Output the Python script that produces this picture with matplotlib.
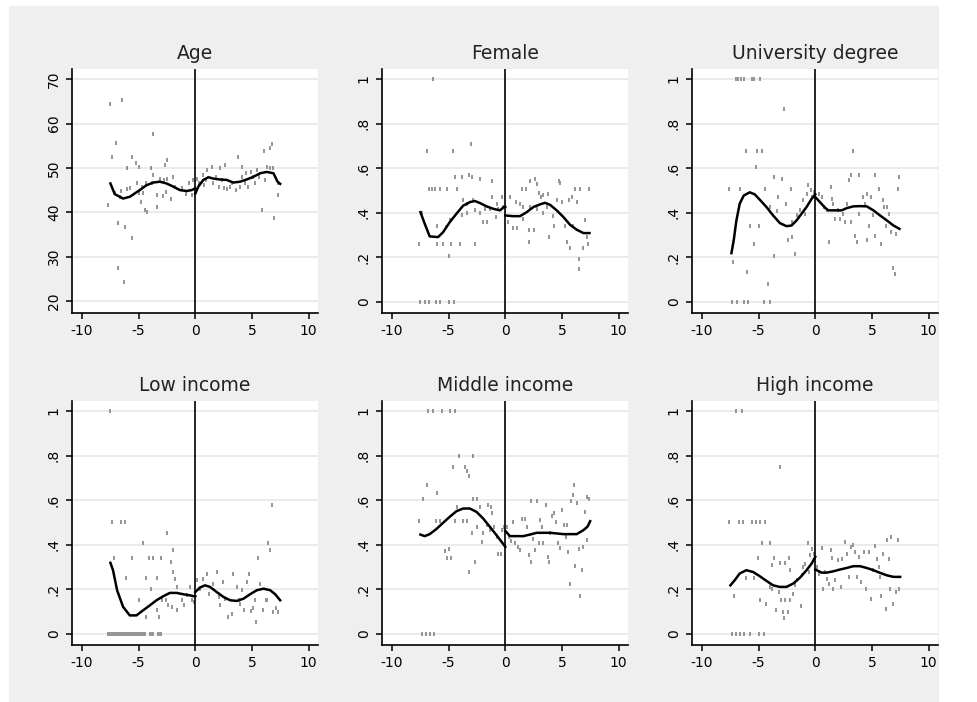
import matplotlib
matplotlib.use("Agg")
import matplotlib.pyplot as plt
from matplotlib.patches import Rectangle

plt.rcParams["font.family"] = ["DejaVu Sans"]
plt.rcParams["axes.unicode_minus"] = False

# ---------------------------------------------------------------------------
# Binned means (scatter) and local polynomial fits on each side of the cutoff
# ---------------------------------------------------------------------------
TITLES = ["Age", "Female", "University degree", "Low income", "Middle income", "High income"]

X_TICKS = [-10, -5, 0, 5, 10]
AGE_Y_TICKS = [20, 30, 40, 50, 60, 70]
AGE_Y_LABELS = ["20", "30", "40", "50", "60", "70"]
SHARE_Y_TICKS = [0, 0.2, 0.4, 0.6, 0.8, 1.0]
SHARE_Y_LABELS = ["0", ".2", ".4", ".6", ".8", "1"]

# Age
AGE_PTS_X = [-7.55, -6.43, -6.96, -7.32, -7.70, -6.78, -6.22, -5.55, -6.78, -6.25,
             -6.02, -5.55, -5.19, -5.01, -3.72, -3.42, -4.75, -4.45, -4.25, -2.48,
             -2.65, -3.95, -3.69, -3.39, -2.83, -2.60, -2.15, -2.54, -2.01, -1.80,
             -1.21, -0.80, -0.32, -0.56, -0.18, -6.52, -6.02, -5.72, -6.67, -7.08,
             -5.01, -5.16, -4.72, -4.31, -3.83, -3.07, -2.77, -4.60,
             0.18, 0.35, 0.65, 0.77, 1.06, 1.45, 1.83, 2.06, 2.18, 2.63,
             2.54, 2.83, 3.22, 3.60, 3.78, 4.10, 4.10, 4.40, 4.48, 4.69,
             4.90, 5.13, 5.43, 5.66, 5.87, 6.08, 6.31, 6.55, 6.78, 6.90,
             6.99, 7.26, 7.26, 0.91, 1.59, 2.33, 3.07, 3.95, 5.28, 6.17, 6.61]
AGE_PTS_Y = [64.4, 65.3, 55.7, 52.5, 41.6, 37.6, 36.6, 34.3, 27.5, 24.3,
             49.9, 52.5, 51.2, 50.3, 57.6, 41.2, 42.4, 40.5, 40.1, 51.8,
             50.6, 49.9, 48.4, 43.9, 43.6, 44.6, 42.9, 47.6, 48.0, 45.8,
             45.4, 44.2, 43.9, 46.7, 47.3, 44.8, 45.2, 45.4, 43.5, 44.4,
             44.4, 46.7, 45.8, 46.7, 46.5, 47.5, 47.3, 44.4,
             47.4, 46.5, 48.4, 46.1, 49.5, 50.3, 48.0, 45.8, 49.9, 50.6,
             45.4, 45.2, 46.5, 45.0, 52.5, 50.3, 48.0, 46.5, 48.8, 45.8,
             49.1, 48.0, 49.5, 48.0, 40.6, 53.9, 50.3, 54.4, 55.4, 49.9,
             38.8, 43.9, 46.5, 47.3, 46.7, 47.3, 45.8, 45.8, 46.5, 47.3, 49.9]
AGE_FIT_L_X = [-7.49, -7.11, -6.37, -5.78, -4.90, -4.31, -3.72, -3.13, -2.54, -1.95,
               -1.36, -0.77, -0.32, 0.0]
AGE_FIT_L_Y = [46.5, 44.1, 43.1, 43.5, 45.0, 46.1, 46.7, 46.9, 46.5, 45.8,
               45.0, 44.8, 45.0, 45.4]
AGE_FIT_R_X = [0.0, 0.27, 0.71, 1.15, 1.59, 2.18, 2.77, 3.36, 3.95, 4.54,
               5.13, 5.72, 6.31, 6.90, 7.26, 7.49]
AGE_FIT_R_Y = [44.2, 45.8, 47.3, 47.9, 47.6, 47.4, 47.3, 46.7, 46.9, 47.4,
               48.0, 48.8, 49.1, 48.8, 46.9, 46.4]

# Female
FEM_PTS_X = [-6.37, -6.90, -4.60, -3.01, -6.73, -6.49, -6.19, -5.78, -5.13, -4.25,
             -4.40, -3.86, -3.19, -2.95, -2.24, -1.21, -7.61, -7.32, -6.02, -6.02,
             -5.49, -4.75, -4.01, -4.96, -2.65, -7.49, -7.11, -6.73, -6.14, -5.72,
             -4.96, -4.54, -5.19, -4.90, -3.72, -3.42, -3.86, -3.36, -2.89, -2.68,
             -2.24, -1.95, -1.59, -1.80, -1.21, -1.36, -0.83, -0.71, -0.32, -0.18,
             -0.62,
             0.21, 0.41, 0.65, 1.00, 0.94, 1.30, 1.47, 1.83, 1.59, 2.06,
             2.06, 2.18, 2.54, 2.65, 2.83, 2.95, 3.13, 3.36, 3.81, 3.83,
             3.36, 4.25, 4.34, 4.72, 4.84, 4.54, 5.01, 5.25, 5.43, 5.60,
             5.72, 5.87, 6.02, 6.17, 6.31, 6.61, 6.49, 6.49, 6.84, 7.02,
             7.26, 7.35, 7.17, 2.18, 2.77, 3.66, 1.59]
FEM_PTS_Y = [1.00, 0.677, 0.677, 0.706, 0.505, 0.505, 0.505, 0.505, 0.505, 0.505,
             0.56, 0.56, 0.567, 0.56, 0.553, 0.542, 0.26, 0.40, 0.34, 0.26,
             0.26, 0.26, 0.26, 0.204, 0.26, 0.0, 0.0, 0.0, 0.0, 0.0,
             0.0, 0.0, 0.335, 0.365, 0.455, 0.44, 0.387, 0.40, 0.458, 0.41,
             0.40, 0.357, 0.357, 0.417, 0.47, 0.417, 0.38, 0.44, 0.47, 0.425,
             0.417,
             0.357, 0.47, 0.332, 0.332, 0.447, 0.44, 0.505, 0.505, 0.372, 0.267,
             0.324, 0.542, 0.324, 0.553, 0.53, 0.49, 0.47, 0.477, 0.485, 0.29,
             0.40, 0.383, 0.342, 0.542, 0.533, 0.455, 0.447, 0.342, 0.267, 0.455,
             0.242, 0.47, 0.342, 0.505, 0.447, 0.505, 0.192, 0.147, 0.242, 0.368,
             0.26, 0.505, 0.29, 0.425, 0.417, 0.425, 0.425]
FEM_FIT_L_X = [-7.49, -7.11, -6.67, -5.93, -5.49, -4.90, -4.31, -3.72, -3.13, -2.68,
               -2.24, -1.65, -1.06, -0.47, -0.12, 0.0]
FEM_FIT_L_Y = [0.402, 0.350, 0.293, 0.290, 0.312, 0.357, 0.395, 0.431, 0.447, 0.452,
               0.443, 0.428, 0.417, 0.410, 0.425, 0.425]
FEM_FIT_R_X = [0.0, 0.71, 1.30, 1.89, 2.48, 3.07, 3.51, 3.95, 4.54, 5.13,
               5.72, 6.31, 6.90, 7.43]
FEM_FIT_R_Y = [0.387, 0.384, 0.384, 0.402, 0.425, 0.437, 0.444, 0.435, 0.410, 0.380,
               0.345, 0.323, 0.308, 0.308]

# University degree
UNI_PTS_X = [-7.02, -6.78, -6.55, -6.31, -5.60, -5.37, -4.84, -2.77, -6.14, -5.13,
             -4.72, -5.25, -3.66, -2.95, -7.61, -6.67, -4.42, -2.18, -7.26, -6.02,
             -5.43, -5.78, -5.01, -3.60, -1.83, -2.42, -2.06, -4.19, -7.32, -6.90,
             -6.31, -5.96, -4.54, -4.01, -3.30, -4.01, -3.42, -2.60, -2.09, -1.65,
             -1.36, -1.06, -0.77, -0.62, -0.41, -0.27, -0.12, -0.91, -1.42,
             0.35, 0.59, 0.77, 1.00, 1.18, 1.36, 1.47, 1.59, 1.74, 2.04,
             2.18, 2.42, 2.65, 2.77, 2.95, 3.13, 3.30, 3.13, 3.51, 3.66,
             3.83, 3.89, 4.25, 4.40, 4.54, 4.60, 4.78, 4.96, 5.13, 5.31,
             5.28, 5.60, 5.78, 5.96, 6.08, 6.20, 6.37, 6.67, 6.84, 7.05,
             7.08, 7.26, 7.37, 6.49]
UNI_PTS_Y = [1.0, 1.0, 1.0, 1.0, 1.0, 1.0, 1.0, 0.865, 0.677, 0.677,
             0.677, 0.605, 0.56, 0.553, 0.505, 0.505, 0.505, 0.505, 0.18, 0.135,
             0.26, 0.342, 0.342, 0.204, 0.215, 0.275, 0.29, 0.08, 0.0, 0.0,
             0.0, 0.0, 0.0, 0.0, 0.47, 0.425, 0.407, 0.44, 0.357, 0.387,
             0.41, 0.455, 0.485, 0.522, 0.503, 0.47, 0.492, 0.395, 0.38,
             0.485, 0.47, 0.425, 0.41, 0.267, 0.515, 0.462, 0.44, 0.372, 0.41,
             0.372, 0.395, 0.357, 0.44, 0.545, 0.568, 0.677, 0.357, 0.297, 0.267,
             0.568, 0.395, 0.47, 0.44, 0.485, 0.275, 0.342, 0.47, 0.387, 0.568,
             0.297, 0.505, 0.26, 0.455, 0.425, 0.342, 0.425, 0.312, 0.152, 0.125,
             0.305, 0.505, 0.56, 0.395]
UNI_FIT_L_X = [-7.40, -7.20, -6.96, -6.67, -6.31, -5.78, -5.34, -4.90, -4.31, -3.72,
               -3.13, -2.54, -2.09, -1.65, -1.21, -0.77, -0.32, 0.0]
UNI_FIT_L_Y = [0.218, 0.275, 0.365, 0.440, 0.477, 0.491, 0.482, 0.458, 0.425, 0.387,
               0.353, 0.339, 0.342, 0.365, 0.395, 0.425, 0.462, 0.482]
UNI_FIT_R_X = [0.0, 0.41, 0.86, 1.15, 1.59, 2.33, 2.77, 3.36, 3.95, 4.54,
               5.13, 5.72, 6.31, 6.90, 7.43]
UNI_FIT_R_Y = [0.470, 0.447, 0.422, 0.410, 0.410, 0.410, 0.420, 0.428, 0.429, 0.428,
               0.410, 0.387, 0.365, 0.342, 0.327]

# Low income
LOW_PTS_X = [-7.49, -7.32, -6.58, -6.22, -7.14, -6.08, -5.55, -5.01, -4.60, -4.31,
             -4.31, -4.07, -3.72, -3.95, -3.42, -3.42, -3.24, -3.01, -2.54, -2.60,
             -2.39, -2.18, -1.95, -2.01, -1.80, -2.09, -1.65, -1.59, -1.21, -1.00,
             -0.77, -0.47, -0.29, -0.12, -2.95,
             -7.70, -7.60, -7.50, -7.40, -7.30, -7.20, -7.10, -7.00, -6.90, -6.80,
             -6.70, -6.60, -6.50, -6.40, -6.30, -6.20, -6.10, -6.00, -5.90, -5.80,
             -5.70, -5.60, -5.50, -5.40, -5.30, -5.20, -5.10, -5.00, -4.90, -4.80,
             -4.70, -4.60, -4.50, -4.40, -4.00, -3.90, -3.75, -3.30, -3.15, -3.00,
             0.12, 0.41, 0.71, 1.00, 1.24, 1.53, 1.89, 2.06, 2.42, 2.63,
             2.92, 3.22, 3.36, 3.66, 3.83, 4.10, 4.31, 4.54, 4.78, 4.90,
             5.07, 5.28, 5.37, 5.55, 5.72, 5.96, 6.20, 6.43, 6.61, 6.78,
             6.84, 7.08, 7.26, 6.31, 3.95, 2.18]
LOW_PTS_Y = [1.0, 0.502, 0.502, 0.502, 0.34, 0.25, 0.34, 0.153, 0.405, 0.25,
             0.075, 0.34, 0.34, 0.202, 0.25, 0.108, 0.075, 0.34, 0.45, 0.15,
             0.127, 0.322, 0.375, 0.277, 0.247, 0.12, 0.105, 0.21, 0.15, 0.127,
             0.172, 0.21, 0.15, 0.142, 0.15,
             0.0, 0.0, 0.0, 0.0, 0.0, 0.0, 0.0, 0.0, 0.0, 0.0,
             0.0, 0.0, 0.0, 0.0, 0.0, 0.0, 0.0, 0.0, 0.0, 0.0,
             0.0, 0.0, 0.0, 0.0, 0.0, 0.0, 0.0, 0.0, 0.0, 0.0,
             0.0, 0.0, 0.0, 0.0, 0.0, 0.0, 0.0, 0.0, 0.0, 0.0,
             0.243, 0.202, 0.247, 0.27, 0.18, 0.225, 0.277, 0.165, 0.232, 0.157,
             0.075, 0.09, 0.27, 0.21, 0.15, 0.195, 0.105, 0.232, 0.27, 0.102,
             0.117, 0.15, 0.052, 0.34, 0.225, 0.105, 0.15, 0.408, 0.375, 0.577,
             0.097, 0.117, 0.097, 0.15, 0.135, 0.127]
LOW_FIT_L_X = [-7.49, -7.26, -6.90, -6.37, -5.78, -5.19, -4.60, -4.01, -3.42, -2.83,
               -2.24, -1.65, -1.06, -0.47, -0.12, 0.0]
LOW_FIT_L_Y = [0.318, 0.285, 0.195, 0.120, 0.082, 0.082, 0.105, 0.127, 0.150, 0.168,
               0.183, 0.183, 0.177, 0.172, 0.168, 0.168]
LOW_FIT_R_X = [0.0, 0.41, 0.86, 1.30, 1.89, 2.48, 3.07, 3.66, 4.25, 4.84,
               5.43, 6.02, 6.61, 7.05, 7.49]
LOW_FIT_R_Y = [0.187, 0.207, 0.217, 0.210, 0.187, 0.165, 0.150, 0.147, 0.157, 0.177,
               0.195, 0.202, 0.195, 0.177, 0.150]

# Middle income
MID_PTS_X = [-6.78, -6.37, -5.60, -4.90, -4.42, -4.07, -2.83, -4.60, -3.54, -3.42,
             -3.19, -6.90, -7.26, -6.02, -2.83, -2.48, -7.61, -6.14, -5.78, -4.42,
             -3.72, -3.36, -4.25, -5.31, -4.96, -5.13, -4.78, -3.19, -2.65, -2.95,
             -2.54, -2.24, -2.06, -1.95, -1.65, -1.53, -1.24, -1.18, -1.36, -1.00,
             -0.62, -0.41, -0.29, -0.12, -0.77, -7.32, -7.02, -6.67, -6.31,
             0.18, 0.35, 0.53, 0.65, 0.88, 1.12, 1.30, 1.47, 1.71, 1.89,
             2.06, 2.24, 2.30, 2.48, 2.65, 2.77, 2.95, 3.07, 3.24, 3.36,
             3.60, 3.78, 3.83, 3.95, 4.13, 4.31, 4.48, 4.66, 4.84, 5.01,
             5.19, 5.37, 5.57, 5.72, 5.78, 5.96, 6.08, 6.17, 6.31, 6.49,
             6.61, 6.78, 6.84, 7.02, 7.20, 7.37, 7.20, 5.49]
MID_PTS_Y = [1.0, 1.0, 1.0, 1.0, 1.0, 0.80, 0.80, 0.747, 0.747, 0.73,
             0.71, 0.667, 0.603, 0.63, 0.603, 0.603, 0.505, 0.505, 0.505, 0.505,
             0.505, 0.505, 0.57, 0.37, 0.38, 0.34, 0.34, 0.277, 0.322, 0.45,
             0.48, 0.57, 0.412, 0.45, 0.487, 0.577, 0.57, 0.54, 0.465, 0.48,
             0.36, 0.36, 0.465, 0.48, 0.435, 0.0, 0.0, 0.0, 0.0,
             0.48, 0.435, 0.417, 0.502, 0.405, 0.39, 0.375, 0.513, 0.513, 0.48,
             0.352, 0.595, 0.322, 0.427, 0.375, 0.595, 0.405, 0.51, 0.48, 0.405,
             0.577, 0.345, 0.322, 0.45, 0.527, 0.54, 0.502, 0.405, 0.385, 0.557,
             0.487, 0.435, 0.367, 0.225, 0.595, 0.622, 0.667, 0.305, 0.585, 0.378,
             0.168, 0.285, 0.39, 0.547, 0.615, 0.607, 0.42, 0.487]
MID_FIT_L_X = [-7.49, -7.11, -6.67, -6.08, -5.49, -4.90, -4.31, -3.72, -3.13, -2.54,
               -1.95, -1.36, -0.77, -0.32, 0.0]
MID_FIT_L_Y = [0.445, 0.438, 0.447, 0.470, 0.498, 0.525, 0.550, 0.562, 0.562, 0.547,
               0.517, 0.480, 0.442, 0.412, 0.390]
MID_FIT_R_X = [0.0, 0.41, 1.00, 1.59, 2.18, 2.77, 3.36, 3.95, 4.54, 5.13,
               5.72, 6.31, 6.90, 7.26, 7.49]
MID_FIT_R_Y = [0.462, 0.438, 0.438, 0.438, 0.445, 0.453, 0.453, 0.453, 0.450, 0.447,
               0.447, 0.447, 0.465, 0.481, 0.505]

# High income
HIGH_PTS_X = [-7.02, -6.49, -3.13, -7.61, -6.73, -6.37, -5.60, -5.25, -4.90, -4.48,
              -4.72, -4.01, -5.07, -3.60, -3.83, -3.07, -2.65, -2.36, -2.24, -7.20,
              -6.08, -5.43, -4.90, -4.31, -4.01, -3.83, -3.48, -3.24, -3.01, -2.89,
              -2.77, -2.65, -2.42, -2.24, -1.95, -1.80, -1.65, -1.30, -1.21, -1.06,
              -0.88, -0.65, -0.47, -0.29, -0.12, -0.53,
              -7.32, -6.96, -6.67, -6.25, -5.78, -5.01, -4.54,
              0.18, 0.35, 0.59, 0.71, 0.86, 1.00, 1.18, 1.36, 1.47, 1.59,
              1.77, 2.01, 2.24, 2.36, 2.60, 2.77, 2.95, 3.13, 3.30, 3.48,
              3.66, 3.89, 4.07, 4.31, 4.48, 4.72, 4.90, 5.07, 5.25, 5.43,
              5.60, 5.78, 5.96, 6.20, 6.31, 6.49, 6.61, 6.72, 6.90, 7.08,
              7.26, 7.43, 5.72]
HIGH_PTS_Y = [1.0, 1.0, 0.747, 0.5, 0.5, 0.5, 0.5, 0.5, 0.5, 0.5,
              0.405, 0.405, 0.34, 0.34, 0.307, 0.318, 0.318, 0.34, 0.285, 0.168,
              0.25, 0.25, 0.153, 0.135, 0.21, 0.202, 0.108, 0.187, 0.153, 0.097,
              0.072, 0.153, 0.097, 0.153, 0.18, 0.217, 0.24, 0.123, 0.262, 0.30,
              0.315, 0.405, 0.352, 0.382, 0.36, 0.277,
              0.0, 0.0, 0.0, 0.0, 0.0, 0.0, 0.0,
              0.30, 0.27, 0.385, 0.202, 0.277, 0.247, 0.225, 0.375, 0.34, 0.202,
              0.24, 0.33, 0.21, 0.337, 0.412, 0.36, 0.255, 0.39, 0.397, 0.367,
              0.255, 0.345, 0.232, 0.367, 0.202, 0.367, 0.157, 0.285, 0.394, 0.337,
              0.30, 0.168, 0.36, 0.112, 0.42, 0.337, 0.202, 0.435, 0.135, 0.187,
              0.42, 0.202, 0.255]
HIGH_FIT_L_X = [-7.49, -7.11, -6.67, -6.08, -5.49, -4.90, -4.31, -3.72, -3.13, -2.54,
                -1.95, -1.36, -0.77, -0.32, 0.0]
HIGH_FIT_L_Y = [0.217, 0.240, 0.270, 0.285, 0.277, 0.258, 0.237, 0.217, 0.210, 0.210,
                0.225, 0.251, 0.285, 0.315, 0.345]
HIGH_FIT_R_X = [0.0, 0.56, 1.00, 1.59, 2.18, 2.77, 3.36, 3.95, 4.54, 5.13,
                5.72, 6.31, 6.90, 7.49]
HIGH_FIT_R_Y = [0.288, 0.274, 0.274, 0.280, 0.288, 0.295, 0.303, 0.303, 0.295, 0.285,
                0.273, 0.262, 0.255, 0.255]

PANELS = [
    (AGE_PTS_X, AGE_PTS_Y, AGE_FIT_L_X, AGE_FIT_L_Y, AGE_FIT_R_X, AGE_FIT_R_Y),
    (FEM_PTS_X, FEM_PTS_Y, FEM_FIT_L_X, FEM_FIT_L_Y, FEM_FIT_R_X, FEM_FIT_R_Y),
    (UNI_PTS_X, UNI_PTS_Y, UNI_FIT_L_X, UNI_FIT_L_Y, UNI_FIT_R_X, UNI_FIT_R_Y),
    (LOW_PTS_X, LOW_PTS_Y, LOW_FIT_L_X, LOW_FIT_L_Y, LOW_FIT_R_X, LOW_FIT_R_Y),
    (MID_PTS_X, MID_PTS_Y, MID_FIT_L_X, MID_FIT_L_Y, MID_FIT_R_X, MID_FIT_R_Y),
    (HIGH_PTS_X, HIGH_PTS_Y, HIGH_FIT_L_X, HIGH_FIT_L_Y, HIGH_FIT_R_X, HIGH_FIT_R_Y),
]

# ---------------------------------------------------------------------------
W, H = 977, 702
fig = plt.figure(figsize=(W / 100, H / 100), dpi=100, facecolor="white")

# grey graph region behind all panels
fig.add_artist(Rectangle((9 / W, 0), 930 / W, 696 / H, transform=fig.transFigure,
                         facecolor="#efefef", edgecolor="none", zorder=-10))

col_left = [72, 382, 692]
row_top = [69, 401]
ax_w, ax_h = 246, 244

for i, (title, data) in enumerate(zip(TITLES, PANELS)):
    r, c = divmod(i, 3)
    left = col_left[c] / W
    bottom = 1 - (row_top[r] + ax_h) / H
    ax = fig.add_axes([left, bottom, ax_w / W, ax_h / H])
    ax.set_zorder(1)
    ax.set_facecolor("white")

    px, py, lx, ly, rx, ry = data
    if i == 0:
        ax.set_ylim(17.3, 72.3)
        ax.set_yticks(AGE_Y_TICKS)
        ax.set_yticklabels(AGE_Y_LABELS)
    else:
        ax.set_ylim(-0.051, 1.045)
        ax.set_yticks(SHARE_Y_TICKS)
        ax.set_yticklabels(SHARE_Y_LABELS)
    ax.set_xlim(-10.88, 10.83)
    ax.set_xticks(X_TICKS)
    ax.set_xticklabels([str(t) for t in X_TICKS])

    ax.grid(axis="y", color="#e6e6e6", linewidth=1.1, zorder=0)
    ax.set_axisbelow(True)

    ax.plot(px, py, linestyle="none", marker="|", markersize=3.2,
            markeredgewidth=1.4, color="#959595", zorder=2)
    ax.plot(lx, ly, color="black", linewidth=1.8, zorder=3)
    ax.plot(rx, ry, color="black", linewidth=1.8, zorder=3)
    ax.axvline(0, color="black", linewidth=1.2, zorder=4)

    for s in ("top", "right"):
        ax.spines[s].set_visible(False)
    for s in ("left", "bottom"):
        ax.spines[s].set_linewidth(1.2)
        ax.spines[s].set_color("black")

    ax.tick_params(axis="both", direction="out", length=4, width=1.1,
                   labelsize=10, colors="black")
    ax.tick_params(axis="x", pad=4)
    ax.tick_params(axis="y", pad=4)
    for lab in ax.get_yticklabels():
        lab.set_rotation(90)
        lab.set_va("center")

    ax.set_title(title, fontsize=13.5, color="#222222", pad=7.5)

fig.savefig("out.png", dpi=100, facecolor="white")
